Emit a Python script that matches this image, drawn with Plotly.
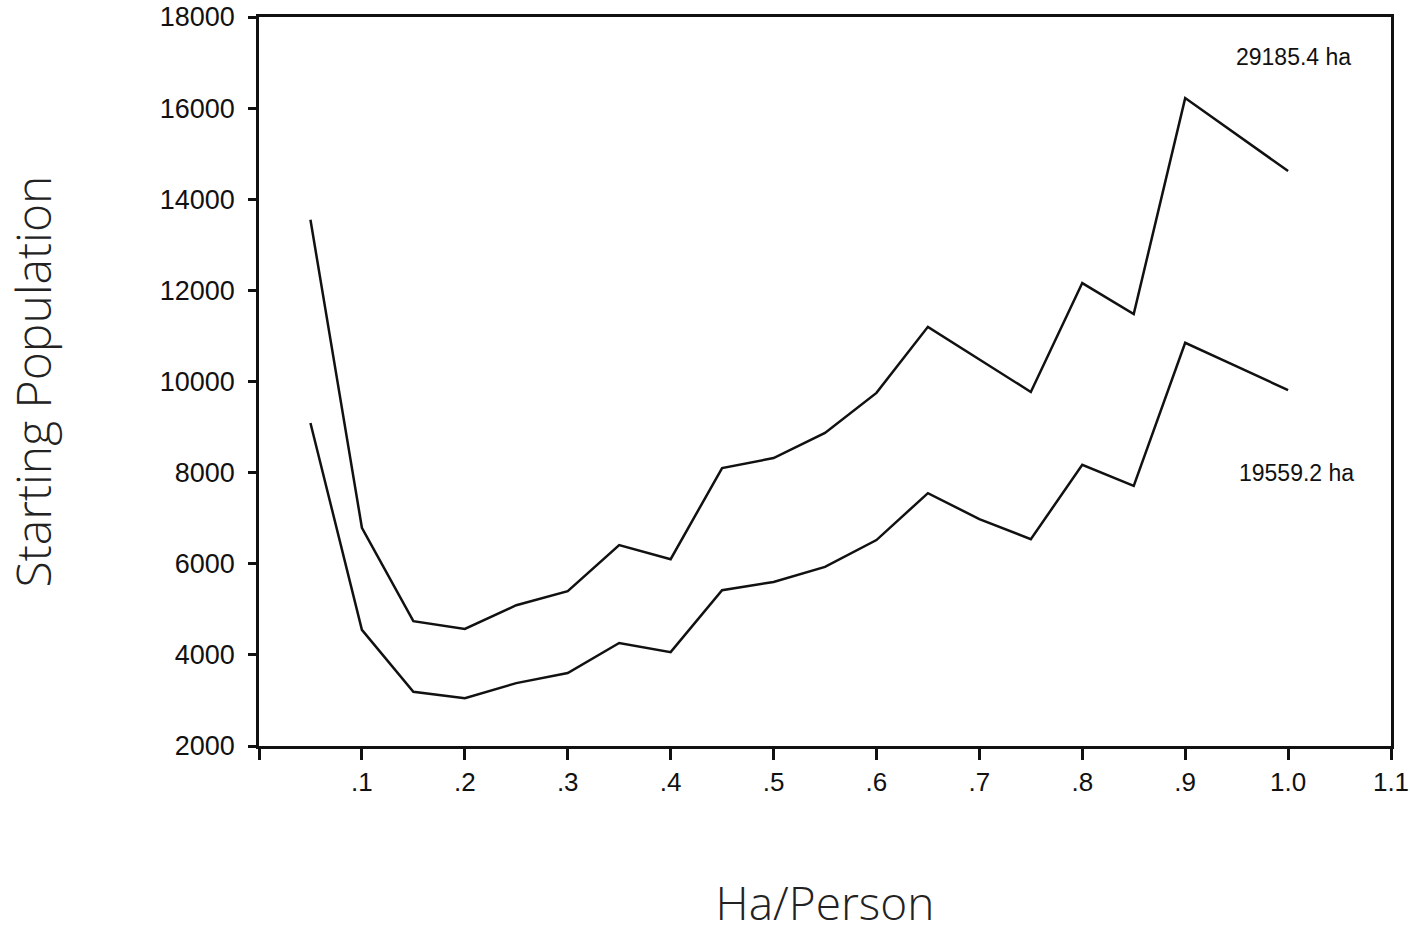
import plotly.graph_objects as go

# Hectares per person (x) and starting population for two land areas
ha_per_person = [0.05, 0.10, 0.15, 0.20, 0.25, 0.30, 0.35, 0.40, 0.45, 0.50,
                 0.55, 0.60, 0.65, 0.70, 0.75, 0.80, 0.85, 0.90, 0.95, 1.00]

pop_29185 = [13550, 6790, 4740, 4570, 5090, 5400, 6410, 6100, 8100, 8320,
             8870, 9750, 11200, 10480, 9770, 12160, 11480, 16220, 15420, 14620]

pop_19559 = [9090, 4550, 3190, 3050, 3380, 3600, 4260, 4060, 5420, 5600,
             5930, 6520, 7550, 6980, 6540, 8170, 7710, 10850, 10330, 9810]

x_tickvals = [0, 0.1, 0.2, 0.3, 0.4, 0.5, 0.6, 0.7, 0.8, 0.9, 1.0, 1.1]
x_ticktext = ["", ".1", ".2", ".3", ".4", ".5", ".6", ".7", ".8", ".9", "1.0", "1.1"]
y_tickvals = [2000, 4000, 6000, 8000, 10000, 12000, 14000, 16000, 18000]

series_labels = ["29185.4 ha", "19559.2 ha"]
label_pos = [(1.005, 17120), (1.008, 7990)]

FONT = "Liberation Sans"
TITLE_FONT = "Open Sans"

fig = go.Figure()
for name, vals in zip(series_labels, [pop_29185, pop_19559]):
    fig.add_trace(go.Scatter(
        x=ha_per_person, y=vals, mode="lines", name=name,
        line=dict(color="#111111", width=2.5),
    ))

for name, (lx, ly) in zip(series_labels, label_pos):
    fig.add_annotation(
        x=lx, y=ly, xref="x", yref="y", text=name, showarrow=False,
        font=dict(family=FONT, size=23, color="#111111"),
    )

fig.update_layout(
    width=1410, height=933,
    margin=dict(l=259, r=19, t=17, b=187),
    paper_bgcolor="white", plot_bgcolor="white",
    showlegend=False,
    font=dict(family=FONT, color="#111111"),
)

fig.update_xaxes(
    range=[0, 1.1], tickvals=x_tickvals, ticktext=x_ticktext,
    automargin=False,
    showgrid=False, zeroline=False,
    showline=True, linecolor="#111111", linewidth=2.5, mirror=True,
    ticks="outside", ticklen=11, tickwidth=3, tickcolor="#111111",
    tickfont=dict(family=FONT, size=26, color="#111111"),
    title=dict(text="Ha/Person", standoff=104,
               font=dict(family=TITLE_FONT, size=46, color="#222222", weight=300)),
)
fig.update_yaxes(
    range=[2000, 18000], tickvals=y_tickvals,
    tickformat="d", automargin=False,
    showgrid=False, zeroline=False,
    showline=True, linecolor="#111111", linewidth=2.5, mirror=True,
    ticks="outside", ticklen=8, tickwidth=3, tickcolor="#111111",
    ticklabelstandoff=8,
    tickfont=dict(family=FONT, size=27, color="#111111"),
    title=dict(text="Starting Population", standoff=101,
               font=dict(family=TITLE_FONT, size=48, color="#222222", weight=300)),
)

fig.write_html("out.html")
